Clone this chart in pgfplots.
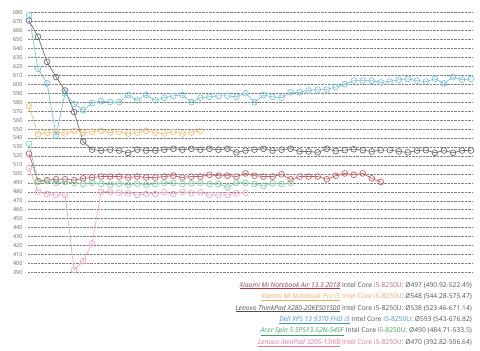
\documentclass[border=0pt]{standalone}
\usepackage{fontspec}
\setmainfont{Open Sans}
\usepackage{pgfplots}
\pgfplotsset{compat=1.18}
\definecolor{cRed}{HTML}{C8606A}
\definecolor{cRedT}{HTML}{A83848}
\definecolor{cOra}{HTML}{F4C07A}
\definecolor{cOraT}{HTML}{EDA860}
\definecolor{cGry}{HTML}{707070}
\definecolor{cGryT}{HTML}{505050}
\definecolor{cCya}{HTML}{7CC4D6}
\definecolor{cCyaT}{HTML}{4A90B4}
\definecolor{cGrn}{HTML}{84D2A4}
\definecolor{cGrnT}{HTML}{3EA060}
\definecolor{cPnk}{HTML}{F0A8CC}
\definecolor{cPnkT}{HTML}{E0709E}
\definecolor{tgray}{HTML}{555555}
\begin{document}
\begin{tikzpicture}[x=1pt,y=1pt]
\path[use as bounding box] (0,0) rectangle (480,351);
\begin{axis}[at={(28pt,78.5pt)}, anchor=south west, scale only axis,
  width=444pt, height=260pt,
  xmin=-0.11, xmax=49.11, ymin=390, ymax=680,
  ytick={390,400,...,680}, xtick=\empty,
  axis line style={draw=none}, tick style={draw=none},
  ymajorgrids, major grid style={densely dotted, black!50, line width=0.5pt},
  yticklabel style={font=\fontsize{5.5}{6}\selectfont, text=black!60, anchor=east, xshift=-2pt},
  /pgf/number format/assume math mode=true,
  clip=false,
  every axis plot/.append style={line width=0.7pt, mark=o, mark size=2.9pt}]
% Xiaomi Mi Notebook Air 13.3 2018
\addplot[cRed, mark options={fill=cRed!10}] coordinates {
(0,522.5)(1,492)(2,493)(3,494)(4,494)(5,493)(6,495)(7,496)(8,497)(9,497)
(10,497)(11,496)(12,497)(13,496)(14,496)(15,497)(16,498)(17,496)(18,497)(19,497)
(20,499)(21,498)(22,498)(23,497)(24,500.5)(25,498)(26,497)(27,497)(28,499.5)(29,494)
(30,497)(31,497)(32,497)(33,494)(34,498)(35,500.5)(36,499)(37,500.5)(38,495)(39,491)};
% Xiaomi Mi Notebook Pro i5
\addplot[cOra, mark options={fill=cOra!10}] coordinates {
(0,575.5)(1,544.3)(2,546)(3,547)(4,545)(5,548)(6,546)(7,547)(8,548)(9,546)
(10,547)(11,545)(12,546)(13,548)(14,546)(15,545)(16,547)(17,545)(18,546)(19,548)};
% Lenovo ThinkPad X280
\addplot[cGry, mark options={fill=white}] coordinates {
(0,671)(1,653)(2,625)(3,608)(4,593)(5,569)(6,536)(7,527)(8,526)(9,527)
(10,526)(11,523.5)(12,527)(13,526)(14,526)(15,527)(16,528)(17,527)(18,528)(19,527)
(20,528)(21,527)(22,528)(23,524)(24,526)(25,527)(26,528)(27,526)(28,527)(29,528)
(30,525)(31,525)(32,524)(33,528)(34,525.5)(35,526.5)(36,527.5)(37,526.5)(38,525)(39,526.5)
(40,526.5)(41,525)(42,524)(43,526)(44,526.5)(45,523.5)(46,526)(47,523.5)(48,526)(49,526)};
% Dell XPS 13 9370
\addplot[cCya, mark options={fill=cCya!15}] coordinates {
(0,677)(1,617)(2,601)(3,543)(4,590)(5,578)(6,571)(7,579)(8,581)(9,580)
(10,580)(11,588)(12,582)(13,588)(14,582)(15,585)(16,587)(17,588)(18,580)(19,585)
(20,586)(21,587)(22,587)(23,586)(24,590)(25,580)(26,588)(27,586)(28,585)(29,591)
(30,591)(31,593)(32,594)(33,594)(34,597)(35,600)(36,604)(37,604)(38,604)(39,602)
(40,603)(41,605)(42,606)(43,604)(44,603)(45,606)(46,601)(47,608)(48,605)(49,606)};
% Acer Spin 5
\addplot[cGrn, mark options={fill=cGrn!15}] coordinates {
(0,533.5)(1,491)(2,492)(3,490)(4,491)(5,490)(6,489)(7,490)(8,489)(9,488)
(10,489)(11,488)(12,489)(13,488)(14,488.7)(15,490)(16,490)(17,488.7)(18,489.5)(19,490)
(20,488.7)(21,488.7)(22,485)(23,490)(24,490)(25,488.7)(26,486.5)(27,489.5)(28,488.7)(29,490)};
% Lenovo IdeaPad 320S
\addplot[cPnk, mark options={fill=cPnk!15}] coordinates {
(0,506.6)(1,480)(2,477.6)(3,476.5)(4,476.5)(5,392.8)(6,402.8)(7,422.6)(8,480)(9,480)
(10,479)(11,478.3)(12,476.5)(13,477.6)(14,477.6)(15,479.5)(16,477.6)(17,480.1)(18,478.3)(19,479.5)
(20,476.5)(21,476.5)(22,476.5)(23,478.3)(24,479)};
\end{axis}
\tikzset{lg/.style={anchor=east, inner sep=0pt, font=\fontsize{6.7}{8}\selectfont}}
\node[lg] at (472,65.3) {\textcolor{cRedT}{\underline{\textit{Xiaomi Mi Notebook Air 13.3 2018}}} \textcolor{tgray}{Intel Core} \textcolor{cRed}{i5-8250U}\textcolor{tgray}{: Ø497 (490.92-522.49)}};
\node[lg] at (472,53.8) {\textcolor{cOraT}{\underline{\textit{Xiaomi Mi Notebook Pro i5}}} \textcolor{cOraT}{Intel Core i5-8250U}\textcolor{tgray}{: Ø548 (544.28-575.47)}};
\node[lg] at (472,42.3) {\textcolor{cGryT}{\underline{\textit{Lenovo ThinkPad X280-20KES01S00}}} \textcolor{tgray}{Intel Core i5-8250U: Ø538 (523.46-671.14)}};
\node[lg] at (472,30.8) {\textcolor{cCyaT}{\underline{\textit{Dell XPS 13 9370 FHD i5}}} \textcolor{tgray}{Intel Core} \textcolor{cCyaT}{i5-8250U}\textcolor{tgray}{: Ø593 (543-676.82)}};
\node[lg] at (472,19.3) {\textcolor{cGrnT}{\underline{\textit{Acer Spin 5 SP513-52N-54SF}}} \textcolor{tgray}{Intel Core} \textcolor{cGrnT}{i5-8250U}\textcolor{tgray}{: Ø490 (484.71-533.5)}};
\node[lg] at (472,7.8) {\textcolor{cPnkT}{\underline{\textit{Lenovo IdeaPad 320S-13IKB}}} \textcolor{cPnkT}{Intel Core i5-8250U}\textcolor{tgray}{: Ø470 (392.82-506.64)}};
\end{tikzpicture}
\end{document}
